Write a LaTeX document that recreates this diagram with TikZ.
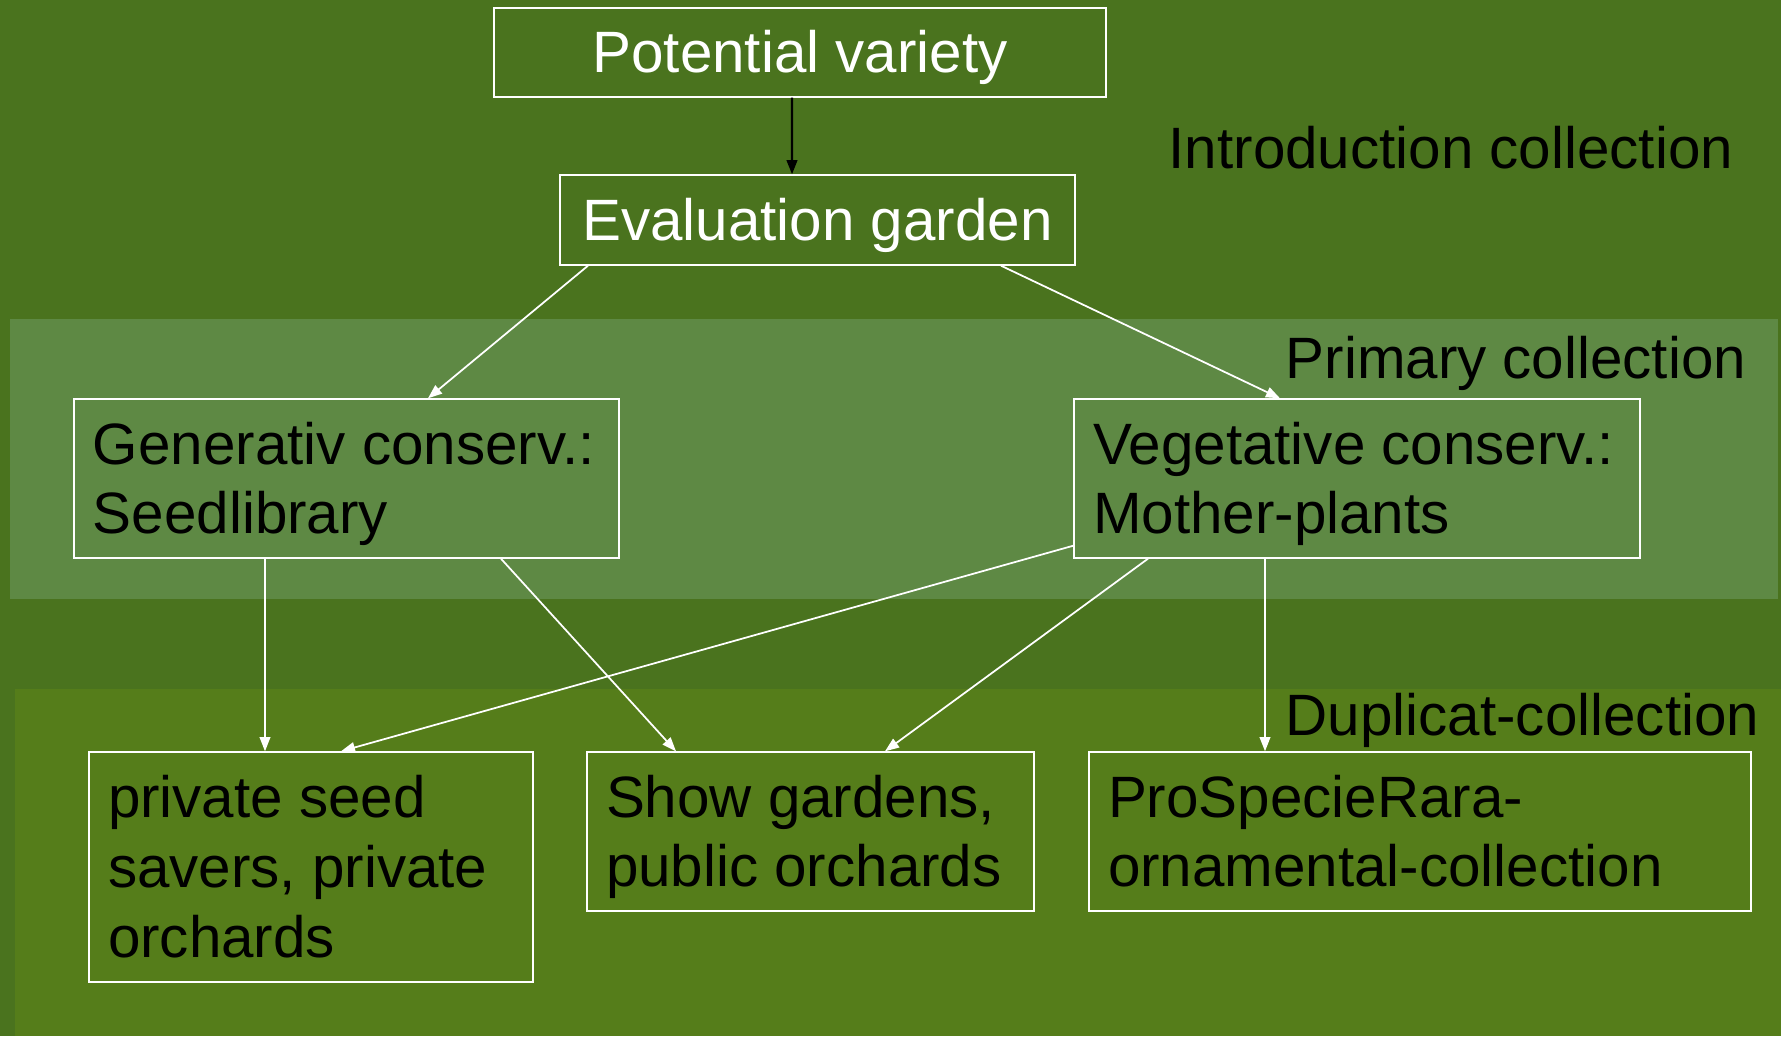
\documentclass[tikz,border=0pt]{standalone}
\usepackage{fontspec}
\setmainfont{Liberation Sans}
\usetikzlibrary{arrows.meta}
\usepackage{xcolor}
\definecolor{bggreen}{RGB}{74,115,30}
\definecolor{primgreen}{RGB}{94,137,68}
\definecolor{dupgreen}{RGB}{85,125,26}

\begin{document}
\begin{tikzpicture}[
    txt/.style={font=\fontsize{16.6}{19.9}\selectfont,
        execute at begin node={\rule{0pt}{0.55cm}},
        execute at end node={\rule[-0.14cm]{0pt}{0pt}}},
    box/.style={txt,draw=white,line width=0.4pt,inner xsep=0.19cm,inner ysep=0pt,align=flush left},
    topbox/.style={txt,draw=white,line width=0.4pt,inner sep=0pt,align=center,text=white},
    lab/.style={anchor=west,inner sep=0pt,font=\fontsize{16.6}{19.9}\selectfont},
    wline/.style={white,line width=0.5pt,-{Triangle[length=4pt,width=3pt]}},
    bline/.style={black,line width=0.6pt,-{Triangle[length=4pt,width=3pt]}}]
    \def\W{17.81}
    \def\H{10.36}
    \useasboundingbox (0,0) rectangle (\W,\H);
    \fill[bggreen] (0,0) rectangle (\W,\H);
    \fill[primgreen] (0.10,4.37) rectangle (17.78,7.17);
    \fill[dupgreen] (0.15,0) rectangle (17.81,3.47);
    \node[lab] (intro) at (11.68,8.88) {Introduction collection};
    \node[lab] (prim) at (12.85,6.725) {Primary collection};
    \node[lab] (dup) at (12.85,3.155) {Duplicat-collection};
    \node[topbox,minimum width=6.12cm,minimum height=0.89cm] (pot) at (8.00,9.835) {Potential variety};
    \node[topbox,minimum width=5.15cm,minimum height=0.90cm] (eval) at (8.175,8.16) {Evaluation garden};
    \node[box,text width=5.07cm,minimum height=1.59cm] (gen) at (3.465,5.575) {Generativ conserv.:\\Seedlibrary};
    \node[box,text width=5.28cm,minimum height=1.59cm] (veg) at (13.57,5.575) {Vegetative conserv.:\\Mother-plants};
    \node[box,text width=4.06cm,minimum height=2.30cm] (priv) at (3.11,1.69) {private seed\\savers, private\\orchards};
    \node[box,text width=4.09cm,minimum height=1.59cm] (show) at (8.105,2.045) {Show gardens,\\public orchards};
    \node[box,text width=6.24cm,minimum height=1.59cm] (pro) at (14.20,2.045) {ProSpecieRara-\\ornamental-collection};
    \draw[bline] ([xshift=-0.08cm]pot.south) -- ([xshift=-0.255cm]eval.north);
    \draw[wline] ([xshift=-2.295cm]eval.south) -- ([xshift=0.815cm]gen.north);
    \draw[wline] ([xshift=1.835cm]eval.south) -- ([xshift=-0.77cm]veg.north);
    \draw[wline] ([xshift=-0.815cm]gen.south) -- ([xshift=-0.46cm]priv.north);
    \draw[wline] ([xshift=1.545cm]gen.south) -- ([xshift=-1.345cm]show.north);
    \draw[wline] ([yshift=0.13cm]veg.south west) -- ([xshift=0.30cm]priv.north);
    \draw[wline] ([xshift=-2.09cm]veg.south) -- ([xshift=0.745cm]show.north);
    \draw[wline] ([xshift=-0.92cm]veg.south) -- ([xshift=-1.55cm]pro.north);
\end{tikzpicture}
\end{document}
